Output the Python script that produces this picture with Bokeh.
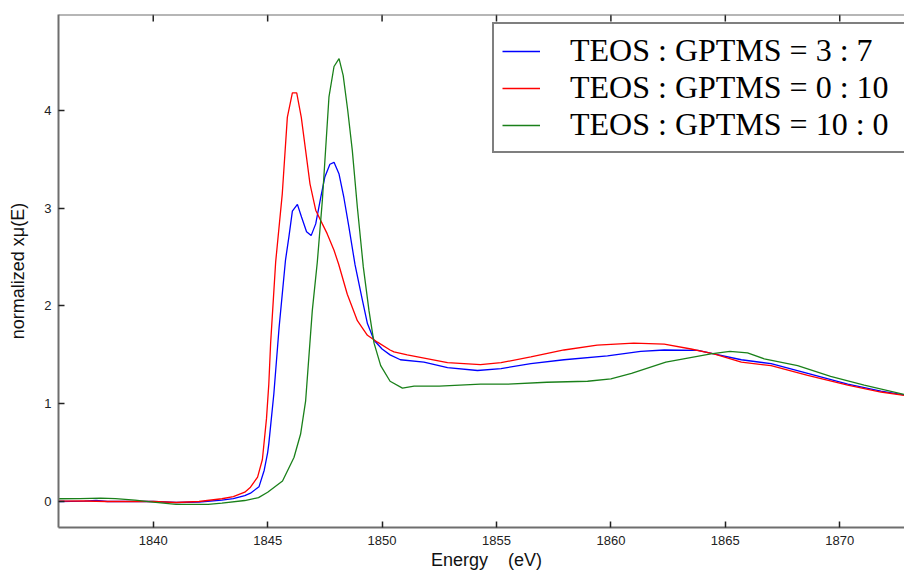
from bokeh.plotting import figure
from bokeh.models import Legend, LegendItem, FixedTicker, Range1d, Span
from bokeh.embed import file_html
from bokeh.resources import INLINE

# ---- data ----
blue_x = [1835.86, 1837.0, 1837.5, 1838.0, 1839.0, 1840.0, 1841.0, 1842.0, 1843.0, 1843.5, 1844.0,
          1844.25, 1844.62, 1844.85, 1845.0, 1845.05, 1845.27, 1845.5, 1845.78, 1845.93, 1846.08,
          1846.3, 1846.48, 1846.7, 1846.9, 1847.1, 1847.32, 1847.5, 1847.72, 1847.9, 1848.12,
          1848.33, 1848.55, 1848.82, 1849.14, 1849.36, 1849.65, 1850.0, 1850.35, 1850.8, 1851.83,
          1852.86, 1854.17, 1855.2, 1856.5, 1857.95, 1859.85, 1861.3, 1862.33, 1863.8, 1864.5,
          1865.7, 1867.0, 1868.6, 1870.35, 1871.8, 1872.83]
blue_y = [0.0, 0.003, 0.01, 0.0, 0.0, 0.0, -0.01, -0.005, 0.015, 0.03, 0.06,
          0.085, 0.15, 0.32, 0.5, 0.59, 1.10, 1.78, 2.47, 2.71, 2.97,
          3.04, 2.91, 2.76, 2.72, 2.84, 3.11, 3.32, 3.45, 3.47, 3.35,
          3.11, 2.81, 2.42, 2.06, 1.82, 1.65, 1.56, 1.50, 1.45, 1.425,
          1.37, 1.34, 1.36, 1.41, 1.45, 1.49, 1.535, 1.55, 1.545, 1.51,
          1.45, 1.41, 1.31, 1.20, 1.13, 1.09]

red_x = [1835.86, 1837.0, 1838.0, 1839.0, 1840.0, 1841.0, 1842.0, 1843.0, 1843.5, 1844.0, 1844.25,
         1844.56, 1844.77, 1844.95, 1845.05, 1845.13, 1845.35, 1845.64, 1845.86, 1846.08, 1846.27,
         1846.47, 1846.66, 1846.85, 1847.1, 1847.39, 1847.6, 1847.9, 1848.1, 1848.48, 1848.92,
         1849.36, 1849.8, 1850.35, 1850.52, 1851.1, 1852.86, 1854.3, 1855.2, 1856.5, 1857.95,
         1859.4, 1861.0, 1862.33, 1863.5, 1864.5, 1865.7, 1867.0, 1868.6, 1870.35, 1871.8, 1872.83]
red_y = [0.003, 0.005, 0.0, 0.0, 0.0, -0.01, 0.0, 0.028, 0.05, 0.095, 0.146,
         0.25, 0.43, 0.85, 1.2, 1.62, 2.45, 3.15, 3.93, 4.18, 4.18,
         3.93, 3.59, 3.25, 2.98, 2.84, 2.74, 2.57, 2.43, 2.12, 1.85,
         1.70, 1.63, 1.55, 1.53, 1.50, 1.42, 1.40, 1.42, 1.48, 1.55,
         1.60, 1.62, 1.61, 1.56, 1.51, 1.425, 1.39, 1.29, 1.19, 1.12, 1.085]

green_x = [1835.86, 1836.8, 1837.7, 1838.35, 1839.2, 1840.0, 1841.0, 1842.4, 1843.0, 1844.0, 1844.6,
           1845.0, 1845.65, 1846.15, 1846.44, 1846.66, 1846.95, 1847.17, 1847.39, 1847.53, 1847.68,
           1847.9, 1848.12, 1848.3, 1848.5, 1848.7, 1848.92, 1849.18, 1849.43, 1849.65, 1849.94,
           1850.35, 1850.89, 1851.4, 1852.5, 1854.3, 1855.5, 1857.2, 1858.98, 1860.0, 1860.9,
           1862.4, 1864.37, 1865.2, 1865.97, 1866.7, 1868.16, 1869.6, 1871.07, 1872.83]
green_y = [0.028, 0.03, 0.034, 0.03, 0.015, -0.007, -0.03, -0.03, -0.017, 0.01, 0.04,
           0.095, 0.21, 0.45, 0.69, 1.03, 1.95, 2.45, 3.08, 3.59, 4.14,
           4.45, 4.53, 4.36, 4.0, 3.59, 3.01, 2.40, 1.95, 1.62, 1.39,
           1.23, 1.16, 1.18, 1.18, 1.20, 1.20, 1.22, 1.23, 1.255, 1.31,
           1.425, 1.51, 1.535, 1.52, 1.46, 1.39, 1.28, 1.19, 1.095]

labels = ["TEOS : GPTMS = 3 : 7", "TEOS : GPTMS = 0 : 10", "TEOS : GPTMS = 10 : 0"]
x_ticks = [1840, 1845, 1850, 1855, 1860, 1865, 1870]
y_ticks = [0, 1, 2, 3, 4]

X0, X1 = 1835.86, 1872.83
Y0, Y1 = -0.266, 4.982
AX = "#6e6e6e"
W, H = 904, 574
B_LEFT, B_TOP, B_BOTTOM = 58, 14, 47
frame_h = H - B_TOP - B_BOTTOM

p = figure(width=W, height=H, output_backend="svg", toolbar_location=None,
           x_range=Range1d(X0, X1), y_range=Range1d(Y0, Y1),
           min_border_left=B_LEFT, min_border_right=0, min_border_top=B_TOP,
           min_border_bottom=B_BOTTOM)
p.xgrid.visible = False
p.ygrid.visible = False
p.outline_line_color = None
p.background_fill_color = "white"
p.border_fill_color = "white"

rb = p.line(blue_x, blue_y, line_color="#0000ff", line_width=1.3)
rr = p.line(red_x, red_y, line_color="#ff0000", line_width=1.3)
rg = p.line(green_x, green_y, line_color="#1a801a", line_width=1.3)

# top frame line with inward ticks (no labels)
p.add_layout(Span(location=Y1, dimension="width", line_color=AX, line_width=2))
tick_len = 7 * (Y1 - Y0) / frame_h
p.segment(x0=x_ticks, y0=[Y1] * len(x_ticks), x1=x_ticks, y1=[Y1 - tick_len] * len(x_ticks),
          line_color="#222222", line_width=1.5)

for ax in (p.xaxis[0], p.yaxis[0]):
    ax.axis_line_color = AX
    ax.axis_line_width = 2
    ax.major_tick_in = 6
    ax.major_tick_out = 0
    ax.major_tick_line_color = "#222222"
    ax.major_tick_line_width = 1.5
    ax.minor_tick_line_color = None
    ax.major_label_text_font = "Liberation Sans"
    ax.major_label_text_font_size = "13px"
    ax.major_label_text_color = "#222222"
    ax.axis_label_text_font = "Liberation Sans"
    ax.axis_label_text_font_size = "18px"
    ax.axis_label_text_font_style = "normal"
    ax.axis_label_text_color = "#111111"

p.xaxis[0].ticker = FixedTicker(ticks=x_ticks)
p.yaxis[0].ticker = FixedTicker(ticks=y_ticks)
p.xaxis[0].axis_label = "\u00a0\u00a0Energy\u00a0\u00a0\u00a0\u00a0(eV)"
p.yaxis[0].axis_label = "normalized x\u03bc(E)"
p.xaxis[0].major_label_standoff = 8
p.xaxis[0].axis_label_standoff = 2
p.yaxis[0].major_label_standoff = 7
p.yaxis[0].axis_label_standoff = 13

legend = Legend(items=[LegendItem(label=labels[0], renderers=[rb]),
                       LegendItem(label=labels[1], renderers=[rr]),
                       LegendItem(label=labels[2], renderers=[rg])],
                location=(434, 374))
legend.label_text_font = "Liberation Serif"
legend.label_text_font_size = "32px"
legend.label_text_color = "black"
legend.glyph_width = 38
legend.glyph_height = 30
legend.label_height = 30
legend.label_width = 345
legend.label_standoff = 30
legend.padding = 8
legend.spacing = 0
legend.margin = 0
legend.border_line_color = "black"
legend.border_line_width = 2
legend.background_fill_color = "white"
legend.background_fill_alpha = 1.0
p.add_layout(legend)

open("out.html", "w").write(file_html(p, INLINE))
